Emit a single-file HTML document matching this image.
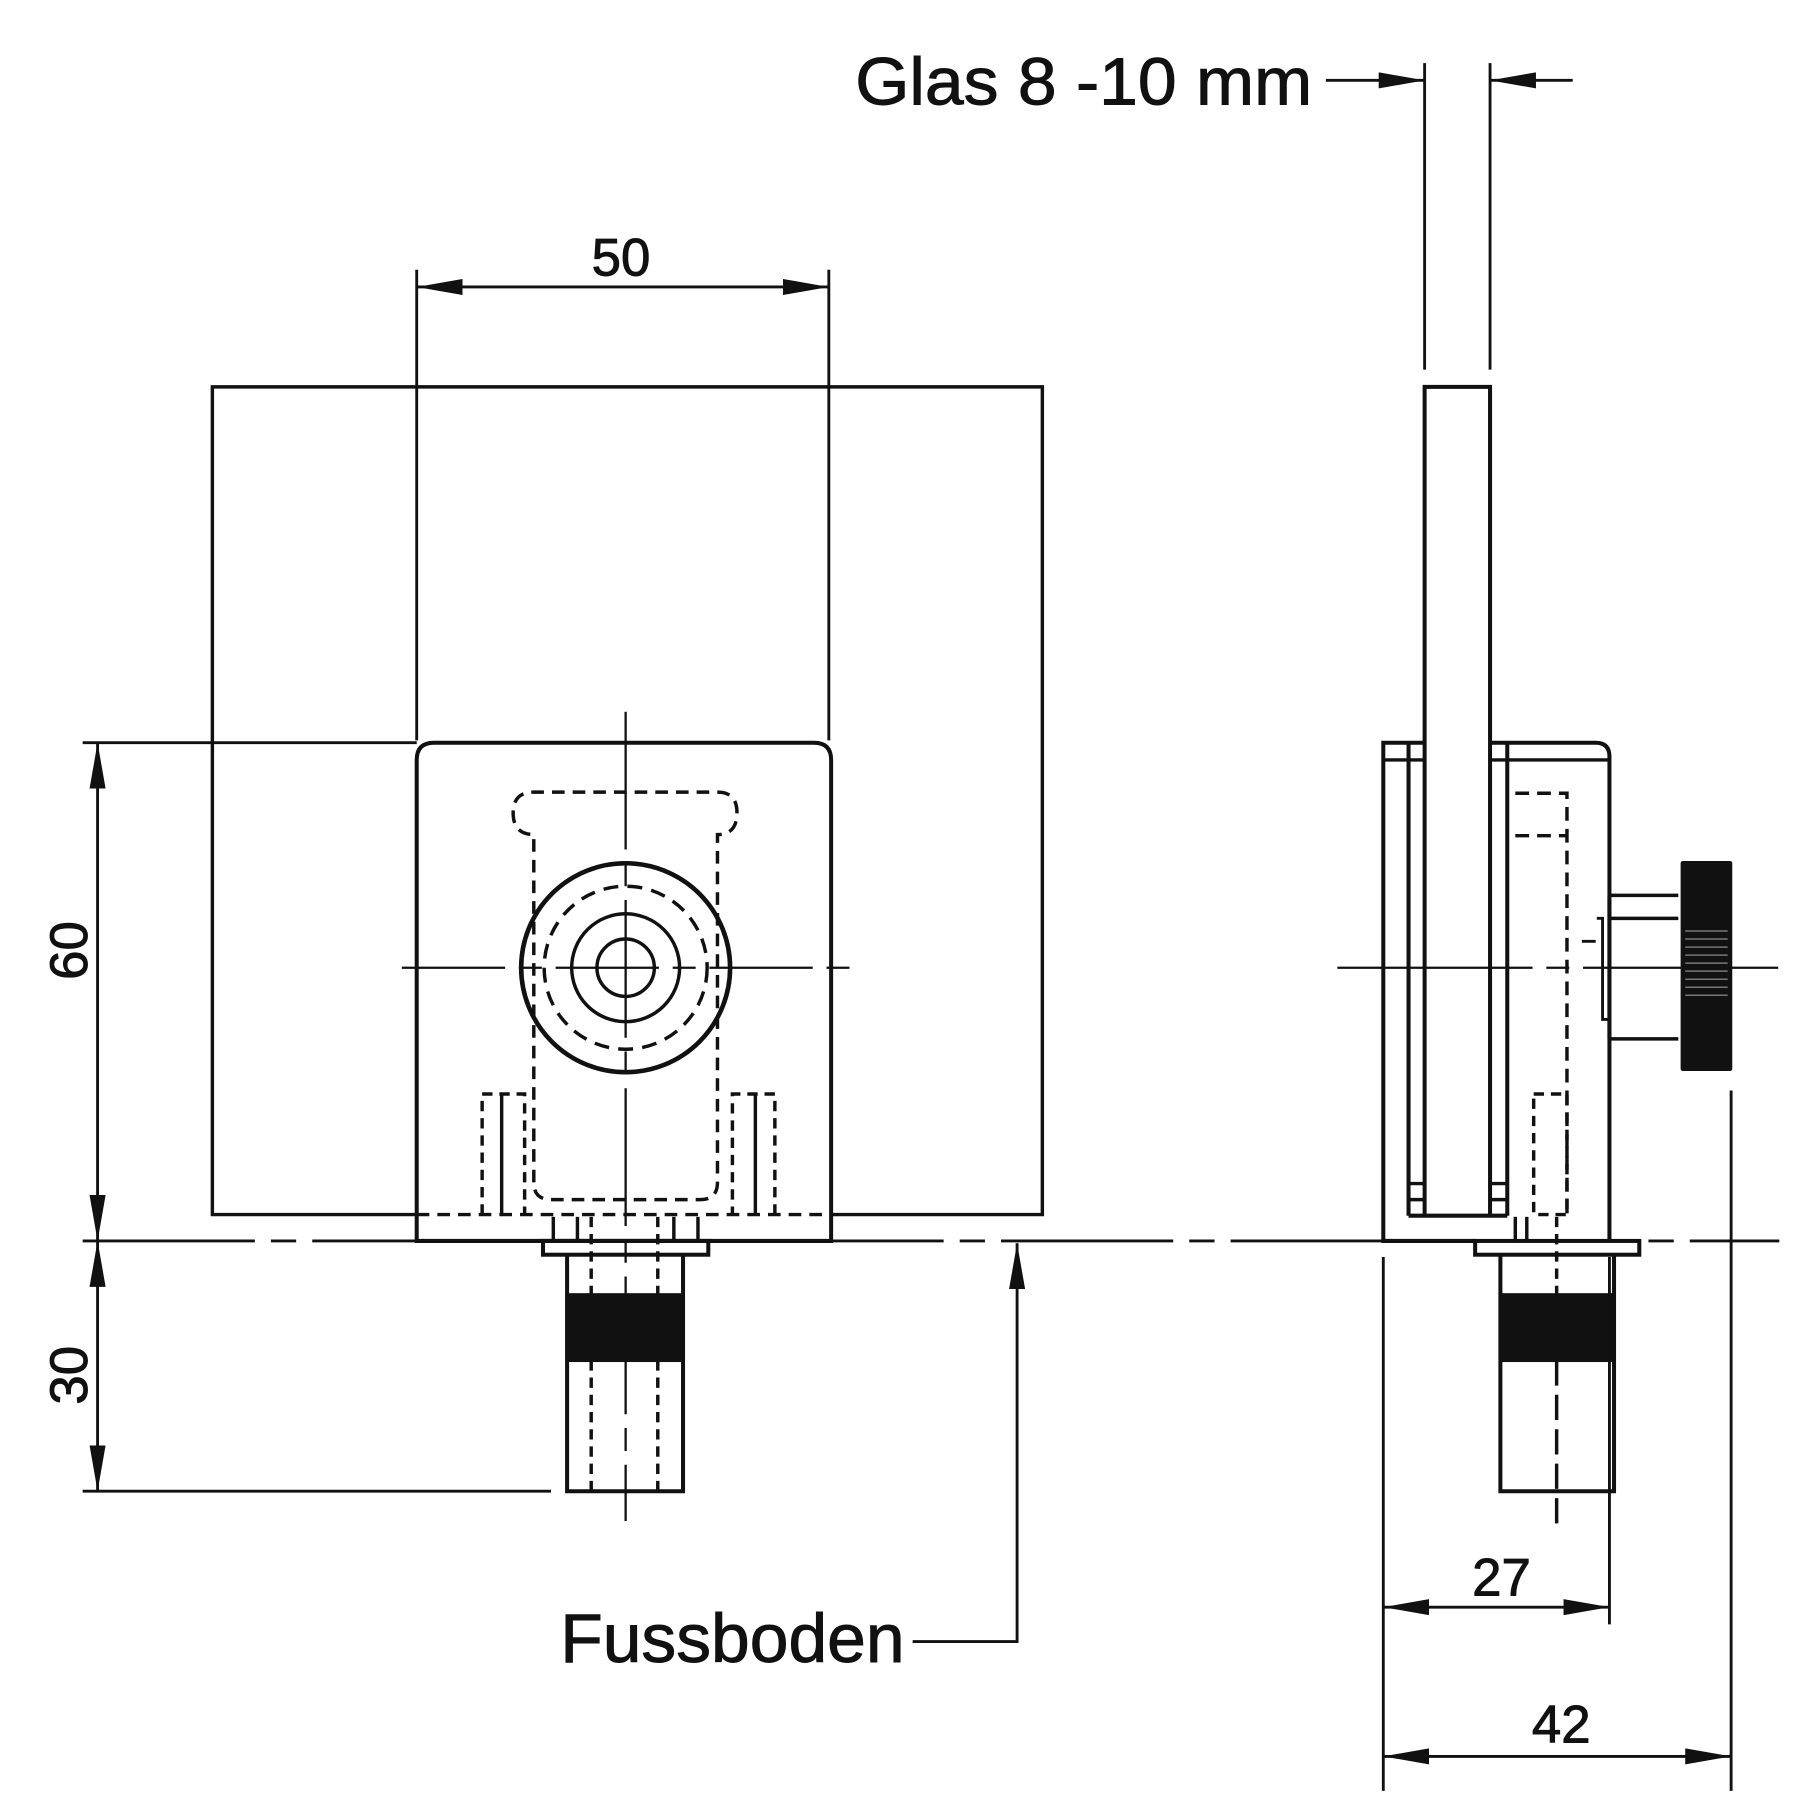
<!DOCTYPE html>
<html><head><style>html,body{margin:0;padding:0;background:#fff}svg{display:block}</style></head>
<body>
<svg width="1800" height="1800" viewBox="0 0 1568 1568" xmlns="http://www.w3.org/2000/svg" font-family="Liberation Sans, Arial, sans-serif">
<defs>
<marker id="a" viewBox="0 0 40 14" refX="40" refY="7" markerWidth="40" markerHeight="14" markerUnits="userSpaceOnUse" orient="auto-start-reverse"><path d="M0,0 L40,7 L0,14 Z" fill="#111"/></marker>
</defs>
<g stroke="#111" fill="none" stroke-width="3">
<!-- front glass -->
<path d="M363,1058 H185 V337 H908 V1058 H724"/>
<!-- front bracket -->
<path d="M363,1081 V662 Q363,647 378,647 H709 Q724,647 724,662 V1081 Z" stroke-width="3.5"/>
<!-- dim 50 -->
<line x1="363" y1="235" x2="363" y2="645" stroke-width="2.5"/>
<line x1="722" y1="235" x2="722" y2="645" stroke-width="2.5"/>
<line x1="363" y1="250" x2="722" y2="250" stroke-width="2.5" marker-start="url(#a)" marker-end="url(#a)"/>
<!-- dims left -->
<line x1="72" y1="647" x2="363" y2="647" stroke-width="2.5"/>
<line x1="85" y1="647" x2="85" y2="1081" stroke-width="2.5" marker-start="url(#a)" marker-end="url(#a)"/>
<line x1="85" y1="1081" x2="85" y2="1299" stroke-width="2.5" marker-start="url(#a)" marker-end="url(#a)"/>
<line x1="72" y1="1299" x2="480" y2="1299" stroke-width="2.5"/>
<!-- floor line -->
<line x1="72" y1="1081" x2="1550" y2="1081" stroke-width="2.5" stroke-dasharray="150,14,22,14"/>
<!-- Fussboden -->
<polyline points="795,1430 886,1430 886,1083" stroke-width="2.5" marker-end="url(#a)"/>
<!-- centerlines front -->
<line x1="350" y1="843" x2="740" y2="843" stroke-width="2" stroke-dasharray="90,12,20,12"/>
<line x1="545" y1="620" x2="545" y2="1325" stroke-width="2" stroke-dasharray="120,12,20,12"/>
<!-- dashed slot -->
<path d="M465,1030 V727 Q447,727 447,708 Q447,690 465,690 H625 Q642,690 642,708 Q642,727 625,727 V1030 Q625,1045 610,1045 H480 Q465,1045 465,1030" stroke-dasharray="11,7"/>
<line x1="363" y1="1058" x2="724" y2="1058" stroke-dasharray="11,7"/>
<!-- knob circles -->
<circle cx="545" cy="843" r="91" stroke-width="4"/>
<circle cx="545" cy="843" r="71" stroke-dasharray="13,8"/>
<circle cx="545" cy="843" r="47"/>
<circle cx="545" cy="843" r="25"/>
<!-- small side dashed blocks -->
<path d="M420,1058 V953 H457 V1058" stroke-dasharray="9,6"/>
<line x1="437" y1="953" x2="437" y2="1058"/>
<path d="M675,1058 V953 H638 V1058" stroke-dasharray="9,6"/>
<line x1="658" y1="953" x2="658" y2="1058"/>
<!-- bottom bolt -->
<rect x="473" y="1081" width="144" height="12" stroke-width="3.5"/>
<path d="M494,1093 V1299 H595 V1093" stroke-width="3.5"/>
<rect x="494" y="1128" width="101" height="57" fill="#111"/>
<line x1="515" y1="1060" x2="515" y2="1128" stroke-dasharray="9,6"/>
<line x1="573" y1="1060" x2="573" y2="1128" stroke-dasharray="9,6"/>
<line x1="515" y1="1185" x2="515" y2="1299" stroke-dasharray="9,6"/>
<line x1="573" y1="1185" x2="573" y2="1299" stroke-dasharray="9,6"/>
<line x1="482" y1="1060" x2="482" y2="1081"/><line x1="503" y1="1060" x2="503" y2="1081"/>
<line x1="587" y1="1060" x2="587" y2="1081"/><line x1="608" y1="1060" x2="608" y2="1081"/>

<!-- side view glass -->
<line x1="1241" y1="55" x2="1241" y2="322" stroke-width="2.5"/>
<line x1="1298" y1="55" x2="1298" y2="322" stroke-width="2.5"/>
<line x1="1155" y1="70" x2="1241" y2="70" stroke-width="2.5" marker-end="url(#a)"/>
<line x1="1370" y1="70" x2="1298" y2="70" stroke-width="2.5" marker-end="url(#a)"/>
<path d="M1241,1058 V337 H1298 V1058" stroke-width="3.5"/>
<!-- side bracket -->
<path d="M1241,647 H1205 V1081 H1285" stroke-width="3.5"/>
<path d="M1298,647 H1390 Q1402,647 1402,659 V1081" stroke-width="3.5"/>
<line x1="1205" y1="662" x2="1241" y2="662"/>
<line x1="1298" y1="662" x2="1402" y2="662"/>
<line x1="1227" y1="647" x2="1227" y2="1059" stroke-width="3.5"/>
<line x1="1313" y1="647" x2="1313" y2="1059" stroke-width="3.5"/>
<line x1="1227" y1="1059" x2="1313" y2="1059" stroke-width="3.5"/>
<line x1="1227" y1="1031" x2="1241" y2="1031"/><line x1="1227" y1="1045" x2="1241" y2="1045"/>
<line x1="1298" y1="1031" x2="1313" y2="1031"/><line x1="1298" y1="1045" x2="1313" y2="1045"/>
<path d="M1320,691 H1365 V1060 M1320,728 H1365" stroke-dasharray="12,7"/>
<rect x="1336" y="953" width="29" height="105" stroke-dasharray="9,6"/>
<rect x="1285" y="1081" width="143" height="12" stroke-width="3.5"/>
<path d="M1307,1093 V1299 H1406 V1093" stroke-width="3.5"/>
<rect x="1307" y="1128" width="99" height="57" fill="#111"/>
<line x1="1356" y1="1060" x2="1356" y2="1128" stroke-dasharray="9,6"/>
<line x1="1356" y1="1185" x2="1356" y2="1330" stroke-dasharray="22,8"/>
<line x1="1320" y1="1060" x2="1320" y2="1081"/><line x1="1330" y1="1060" x2="1330" y2="1081"/>
<!-- knob side -->
<path d="M1402,800 H1462 M1402,905 H1462 M1402,780 H1462"/>
<line x1="1402" y1="780" x2="1402" y2="905" stroke-width="3.5"/>
<path d="M1391,800 H1396 V888 H1402 M1378,820 H1390" stroke-width="2.5"/>
<rect x="1464" y="750" width="45" height="183" rx="2" fill="#111" stroke="none"/>
<g stroke="#777" stroke-width="1.3">
<line x1="1468" y1="811" x2="1505" y2="811"/><line x1="1468" y1="818" x2="1505" y2="818"/><line x1="1468" y1="825" x2="1505" y2="825"/><line x1="1468" y1="832" x2="1505" y2="832"/><line x1="1468" y1="839" x2="1505" y2="839"/><line x1="1468" y1="846" x2="1505" y2="846"/><line x1="1468" y1="853" x2="1505" y2="853"/><line x1="1468" y1="860" x2="1505" y2="860"/><line x1="1468" y1="867" x2="1505" y2="867"/>
</g>
<line x1="1165" y1="843" x2="1555" y2="843" stroke-width="2" stroke-dasharray="170,12,20,12"/>
<!-- side dims -->
<line x1="1205" y1="1095" x2="1205" y2="1560" stroke-width="2.5"/>
<line x1="1402" y1="1095" x2="1402" y2="1415" stroke-width="2.5"/>
<line x1="1508" y1="950" x2="1508" y2="1560" stroke-width="2.5"/>
<line x1="1205" y1="1400" x2="1402" y2="1400" stroke-width="2.5" marker-start="url(#a)" marker-end="url(#a)"/>
<line x1="1205" y1="1530" x2="1508" y2="1530" stroke-width="2.5" marker-start="url(#a)" marker-end="url(#a)"/>
</g>
<g fill="#111" stroke="#111" stroke-width="0.8">
<text x="541" y="240" font-size="46" text-anchor="middle">50</text>
<text transform="translate(76,828) rotate(-90)" font-size="46" text-anchor="middle">60</text>
<text transform="translate(76,1198) rotate(-90)" font-size="46" text-anchor="middle">30</text>
<text x="1308" y="1390" font-size="46" text-anchor="middle">27</text>
<text x="1360" y="1518" font-size="46" text-anchor="middle">42</text>
<text x="745" y="91" font-size="58" textLength="398" lengthAdjust="spacingAndGlyphs">Glas 8 -10 mm</text>
<text x="488" y="1448" font-size="60" textLength="300" lengthAdjust="spacingAndGlyphs">Fussboden</text>
</g>
</svg>
</body></html>
